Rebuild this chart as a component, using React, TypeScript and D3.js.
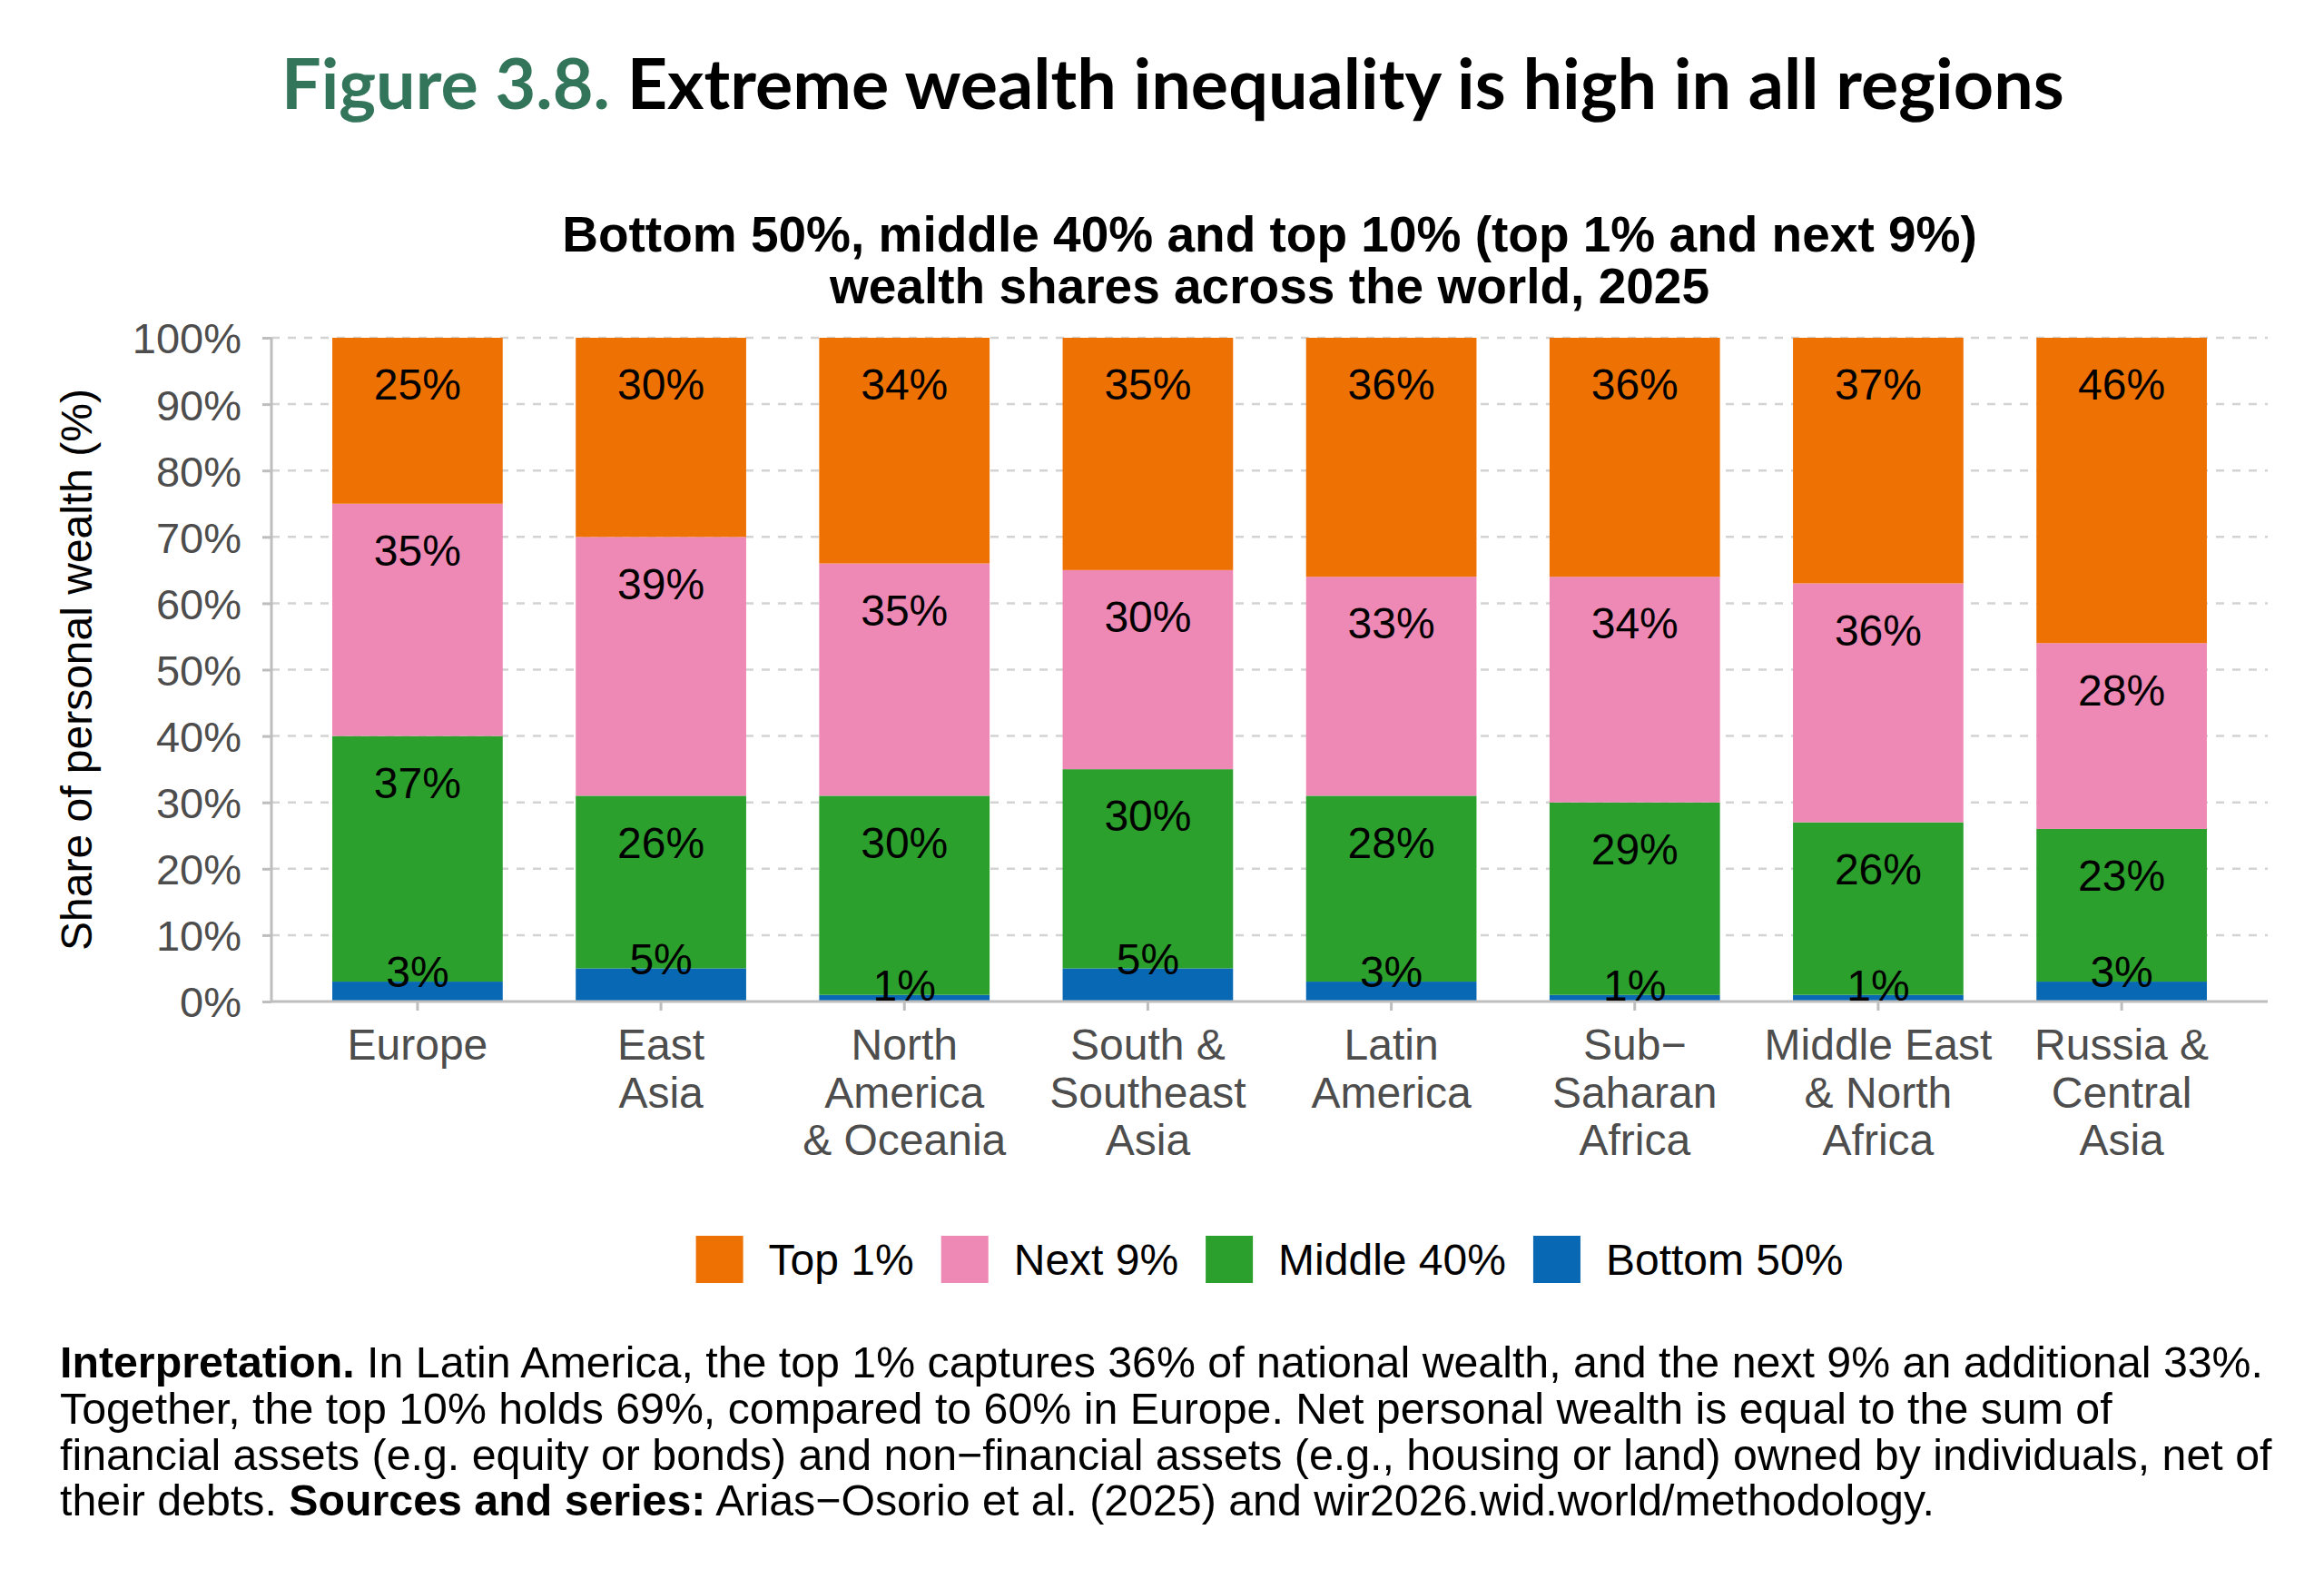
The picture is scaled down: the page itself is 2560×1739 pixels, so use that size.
import React, { useEffect, useRef } from 'react'
import * as d3 from 'd3'

// Data
const regions = [
  'Europe', 'East Asia', 'North America & Oceania', 'South & Southeast Asia',
  'Latin America', 'Sub−Saharan Africa', 'Middle East & North Africa', 'Russia & Central Asia',
]
const regionLines = [
  ['Europe'], ['East', 'Asia'], ['North', 'America', '& Oceania'], ['South &', 'Southeast', 'Asia'],
  ['Latin', 'America'], ['Sub−', 'Saharan', 'Africa'], ['Middle East', '& North', 'Africa'], ['Russia &', 'Central', 'Asia'],
]
const bottom50 = [3, 5, 1, 5, 3, 1, 1, 3]
const middle40 = [37, 26, 30, 30, 28, 29, 26, 23]
const next9 = [35, 39, 35, 30, 33, 34, 36, 28]
const top1 = [25, 30, 34, 35, 36, 36, 37, 46]

const seriesKeys = ['bottom50', 'middle40', 'next9', 'top1']
const seriesLabels = ['Bottom 50%', 'Middle 40%', 'Next 9%', 'Top 1%']
const legendOrder = ['top1', 'next9', 'middle40', 'bottom50']
const yTicks = [0, 10, 20, 30, 40, 50, 60, 70, 80, 90, 100]

const colors: Record<string, string> = {
  top1: '#ee7203',
  next9: '#ee88b4',
  middle40: '#2ca02c',
  bottom50: '#0868b3',
}

const W = 2560
const H = 1739
const SANS = '"Liberation Sans", Arial, Helvetica, sans-serif'

export default function App() {
  const svgRef = useRef<SVGSVGElement>(null)

  useEffect(() => {
    if (!svgRef.current) return
    const svg = d3.select(svgRef.current)
    svg.selectAll('*').remove()

    const margin = { top: 372, left: 299, right: 62, bottom: 636 }
    const plotW = W - margin.left - margin.right
    const plotH = H - margin.top - margin.bottom

    const rows = regions.map((r, i) => ({
      region: r,
      bottom50: bottom50[i],
      middle40: middle40[i],
      next9: next9[i],
      top1: top1[i],
    }))

    const x = d3.scaleBand<string>()
      .domain(regions)
      .range([margin.left, margin.left + plotW])
      .paddingInner(0.3)
      .paddingOuter(0.25)

    const y = d3.scaleLinear()
      .domain([0, 100])
      .range([margin.top + plotH, margin.top])

    const stack = d3.stack<any>().keys(seriesKeys)
    const stacked = stack(rows)

    // Title
    const title = svg.append('text')
      .attr('x', 310)
      .attr('y', 120)
      .style('font-family', 'Lato, "Noto Sans", sans-serif')
      .style('font-weight', 700)
      .style('font-size', '77.3px')
    title.append('tspan').attr('fill', '#33755a').text('Figure 3.8. ')
    title.append('tspan').attr('fill', '#000').text('Extreme wealth inequality is high in all regions')

    // Subtitle
    const cx = margin.left + plotW / 2
    ;['Bottom 50%, middle 40% and top 10% (top 1% and next 9%)', 'wealth shares across the world, 2025']
      .forEach((t, i) => {
        svg.append('text')
          .attr('x', cx)
          .attr('y', 277 + i * 57)
          .attr('text-anchor', 'middle')
          .style('font-family', SANS)
          .style('font-weight', 700)
          .style('font-size', '55px')
          .attr('fill', '#000')
          .text(t)
      })

    // Grid
    svg.append('g')
      .selectAll('line')
      .data(yTicks.filter(d => d > 0))
      .join('line')
      .attr('x1', margin.left)
      .attr('x2', margin.left + plotW)
      .attr('y1', d => y(d))
      .attr('y2', d => y(d))
      .attr('stroke', '#d3d3d3')
      .attr('stroke-width', 2.5)
      .attr('stroke-dasharray', '9,9')

    // Bars
    const layers = svg.append('g')
      .selectAll('g')
      .data(stacked)
      .join('g')
      .attr('fill', d => colors[d.key])

    layers.selectAll('rect')
      .data(d => d)
      .join('rect')
      .attr('x', d => x(d.data.region) as number)
      .attr('width', x.bandwidth())
      .attr('y', d => y(d[1]))
      .attr('height', d => y(d[0]) - y(d[1]))

    // Axes
    const axisColor = '#bebebe'
    const yAxis = svg.append('g')
      .attr('transform', `translate(${margin.left},0)`)
      .call(d3.axisLeft(y).tickValues(yTicks).tickFormat(d => `${d}%`).tickSize(10).tickPadding(23))
    yAxis.select('.domain').attr('stroke', axisColor).attr('stroke-width', 3).attr('d', `M0,${y(100)}V${y(0)}`)
    yAxis.selectAll('.tick line').attr('stroke', axisColor).attr('stroke-width', 3)
    yAxis.selectAll('.tick text')
      .attr('fill', '#4d4d4d')
      .attr('dy', '0.36em')
      .style('font-family', SANS)
      .style('font-size', '47px')

    const xAxis = svg.append('g')
      .attr('transform', `translate(0,${y(0)})`)
      .call(d3.axisBottom(x).tickSize(10).tickFormat(() => ''))
    xAxis.select('.domain').attr('stroke', axisColor).attr('stroke-width', 3)
      .attr('d', `M${margin.left},0H${margin.left + plotW}`)
    xAxis.selectAll('.tick line').attr('stroke', axisColor).attr('stroke-width', 3)

    // Multi-line category labels
    svg.append('g')
      .selectAll('text')
      .data(regions)
      .join('text')
      .attr('text-anchor', 'middle')
      .attr('fill', '#4d4d4d')
      .style('font-family', SANS)
      .style('font-size', '48px')
      .each(function (d, i) {
        const t = d3.select(this)
        regionLines[i].forEach((line, j) => {
          t.append('tspan')
            .attr('x', (x(d) as number) + x.bandwidth() / 2)
            .attr('y', y(0) + 64 + j * 52.5)
            .text(line)
        })
      })

    // Y axis title
    svg.append('text')
      .attr('transform', `translate(${101},${margin.top + plotH / 2}) rotate(-90)`)
      .attr('text-anchor', 'middle')
      .style('font-family', SANS)
      .style('font-size', '48px')
      .attr('fill', '#000')
      .text('Share of personal wealth (%)')

    // Segment labels
    const labels = svg.append('g')
      .style('font-family', SANS)
      .style('font-size', '48px')
      .attr('text-anchor', 'middle')
      .attr('fill', '#000')
    stacked.forEach(layer => {
      labels.selectAll(null)
        .data(layer)
        .join('text')
        .attr('x', d => (x(d.data.region) as number) + x.bandwidth() / 2)
        .attr('y', d => layer.key === 'bottom50' ? y(d[1]) - 11 : y(d[1]) + 51)
        .attr('dy', '0.36em')
        .text(d => `${d[1] - d[0]}%`)
    })

    // Legend
    const legend = svg.append('g')
      .style('font-family', SANS)
      .style('font-size', '48px')
    let lx = 0
    const legendY = 1387
    const sq = 52
    const itemGap = 30
    legendOrder.forEach(key => {
      const item = legend.append('g').attr('transform', `translate(${lx},0)`)
      item.append('rect')
        .attr('x', 0)
        .attr('y', legendY - sq / 2)
        .attr('width', sq)
        .attr('height', sq)
        .attr('fill', colors[key])
      const t = item.append('text')
        .attr('x', sq + 28)
        .attr('y', legendY)
        .attr('dy', '0.36em')
        .attr('fill', '#000')
        .text(seriesLabels[seriesKeys.indexOf(key)])
      const tw = (t.node() as SVGTextElement).getComputedTextLength()
      lx += sq + 28 + tw + itemGap
    })
    const legendW = lx - itemGap
    legend.attr('transform', `translate(${cx - legendW / 2},0)`)

    // Interpretation text
    const note = svg.append('g')
      .style('font-family', SANS)
      .style('font-size', '48.3px')
      .attr('fill', '#000')
    const noteLines: [string, boolean][][] = [
      [['Interpretation.', true], [' In Latin America, the top 1% captures 36% of national wealth, and the next 9% an additional 33%.', false]],
      [['Together, the top 10% holds 69%, compared to 60% in Europe. Net personal wealth is equal to the sum of', false]],
      [['financial assets (e.g. equity or bonds) and non−financial assets (e.g., housing or land) owned by individuals, net of', false]],
      [['their debts. ', false], ['Sources and series:', true], [' Arias−Osorio et al. (2025) and wir2026.wid.world/methodology.', false]],
    ]
    noteLines.forEach((parts, i) => {
      const t = note.append('text')
        .attr('x', 66)
        .attr('y', 1517 + i * 50.8)
        .attr('xml:space', 'preserve')
        .style('white-space', 'pre')
      parts.forEach(([s, bold]) => {
        t.append('tspan').style('font-weight', bold ? 700 : 400).text(s)
      })
    })
  }, [])

  return (
    <svg
      ref={svgRef}
      width={W}
      height={H}
      viewBox={`0 0 ${W} ${H}`}
      style={{ position: 'absolute', left: 0, top: 0, background: '#fff' }}
    />
  )
}
